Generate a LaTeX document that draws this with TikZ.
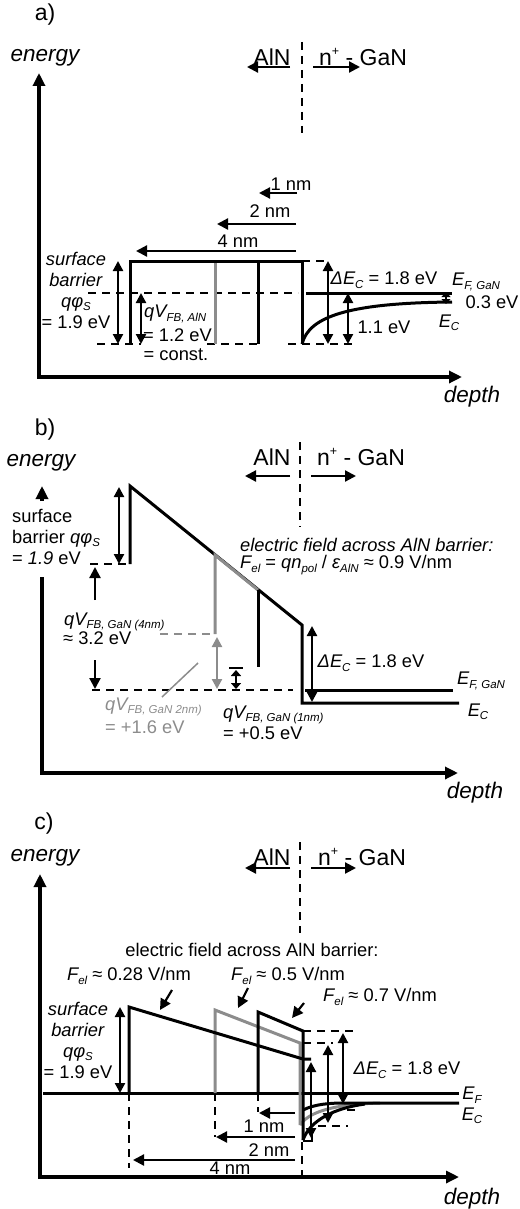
\documentclass[tikz,border=0pt]{standalone}
\usepackage{fontspec}
\setmainfont{Liberation Sans}
\usepackage{tikz}
\usetikzlibrary{arrows.meta,positioning}

\newcommand{\lowtxt}[1]{\raisebox{-0.35ex}{\fontsize{11.5}{12}\selectfont #1}}
\newcommand{\uptxt}[1]{\raisebox{0.75ex}{\fontsize{12.5}{12}\selectfont #1}}

\begin{document}
\begin{tikzpicture}[
  x=1pt, y=-1pt,
  hd/.style={font=\fontsize{23}{25}\selectfont, inner sep=0pt},
  hdit/.style={font=\fontsize{22.5}{25}\selectfont\itshape, inner sep=0pt},
  lbl/.style={font=\fontsize{18.3}{21}\selectfont, inner sep=0pt},
  lblit/.style={font=\fontsize{18.3}{21}\selectfont\itshape, inner sep=0pt},
  ax/.style={line width=3.2pt, >={Triangle[length=13pt,width=12pt]}},
  band/.style={line width=3pt},
  dsh/.style={line width=2.2pt, dash pattern=on 8pt off 6pt},
  arr/.style={line width=2.2pt, -{Triangle[length=11pt,width=11pt]}},
  dim/.style={line width=2.2pt, {Triangle[length=10pt,width=10pt]}-{Triangle[length=10pt,width=10pt]}},
  tiny/.style={line width=1.5pt, {Triangle[length=5pt,width=9pt]}-{Triangle[length=5pt,width=9pt]}},
  pale/.style={black!45},
]
\useasboundingbox (0,0) rectangle (519,1209);

% ---------- a) ----------
\node[hd] (tagA) at (45,15) {a)};
\node[hdit] (enA) at (45,58) {energy};
\draw[ax,<->] (39,73) |- (462,377);
\node[hdit] (dpA) at (472,397) {depth};
\draw[dsh] (302,42) -- (302,133);
\node[hd] (alnA) at (272,57) {AlN};
\node[hd] (ganA) at (363,57) {n\uptxt{+} - GaN};
\draw[arr] (290,67) -- (247,67);
\draw[arr] (313,67) -- (360,67);

\draw[arr] (297,193) -- (259,193);
\node[lbl] (n1A) at (291,184) {1 nm};
\draw[arr] (296,224) -- (217,224);
\node[lbl] (n2A) at (270,211) {2 nm};
\draw[arr] (296,251) -- (136,251);
\node[lbl] (n4A) at (238,241) {4 nm};

\draw[dsh] (88,293) -- (298,293);
\draw[dsh] (97,344) -- (141,344);
\draw[dsh] (207,344) -- (258,344);
\draw[dsh] (288,344) -- (357,344);
\draw[dsh] (302,261) -- (326,261);
\draw[band,pale] (215,261) -- (215,344);
\draw[band] (258,261) -- (258,344);
\draw[band] (130,344) -- (130,261) -- (302,261) -- (302,344);
\draw[band] (306,293) -- (452,293);
\draw[band] (302,344) .. controls (309,316) and (350,303) .. (452,302);

\draw[dim] (118,261) -- (118,344);
\draw[dim] (141,293) -- (141,344);
\draw[dim] (328,261) -- (328,344);
\draw[dim] (348,293) -- (348,344);
\draw[tiny] (446,292) -- (446,304);

\node[lbl,align=center] (sbA) at (76,290) {\textit{surface}\\\textit{barrier}\\\textit{qφ\lowtxt{S}}\\= 1.9 eV};
\node[lblit,anchor=west] (qvA) at (144,314) {qV\lowtxt{FB, AlN}};
\node[lbl,anchor=west] (eqA) at (143,335) {= 1.2 eV};
\node[lbl] (cstA) at (176,355) {= const.};
\node[lbl] (deA) at (384,280) {\textit{ΔE\lowtxt{C}} = 1.8 eV};
\node[lbl] (d11A) at (384,327) {1.1 eV};
\node[lblit,anchor=west] (efA) at (452,282) {E\lowtxt{F, GaN}};
\node[lbl] (d3A) at (492,302) {0.3 eV};
\node[lblit] (ecA) at (449,323) {E\lowtxt{C}};

% ---------- b) ----------
\node[hd] (tagB) at (45,430) {b)};
\node[hdit] (enB) at (41,463) {energy};
\draw[ax,->] (42,501) -- (42,486);
\node[lbl,anchor=west,align=left] (sbB) at (12,537) {surface\\barrier \textit{qφ\lowtxt{S}}\\= \textit{1.9} eV};
\draw[ax,->] (42,577) |- (458,773);
\node[hdit] (dpB) at (475,793) {depth};
\draw[dsh] (300,442) -- (300,527);
\node[hd] (alnB) at (272,457) {AlN};
\node[hd] (ganB) at (361,457) {n\uptxt{+} - GaN};
\draw[arr] (290,476) -- (245,476);
\draw[arr] (311,476) -- (356,476);

\draw[dsh] (90,564) -- (130,564);
\draw[dsh] (92,690) -- (293,690);
\draw[dsh,pale] (160,634) -- (215,634);
\draw[band] (130,564) -- (130,486) -- (302,625) -- (302,703) -- (459,703);
\draw[band,pale] (215,634) -- (215,555) -- (258,590);
\draw[band] (258,590) -- (258,667);
\draw[band] (305,690) -- (453,690);

\draw[dim] (119,487) -- (119,564);
\draw[arr] (95,600) -- (95,567);
\draw[arr] (95,660) -- (95,689);
\draw[dim,pale] (217,637) -- (217,689);
\draw[line width=2.2pt] (229,668) -- (243,668);
\draw[line width=1.5pt, {Triangle[length=6pt,width=10pt]}-{Triangle[length=6pt,width=10pt]}] (236,670) -- (236,689);
\draw[dim] (312,626) -- (312,702);
\draw[pale,line width=1.5pt] (162,697) -- (198,663);

\node[lblit,anchor=west] (efldB) at (240,545) {electric field across AlN barrier:};
\node[lbl,anchor=west] (fB) at (240,565) {\textit{F\lowtxt{el}} = \textit{qn\lowtxt{pol}} / \textit{ε\lowtxt{AlN}} ≈ 0.9 V/nm};
\node[lblit,anchor=west] (qv4B) at (64,622) {qV\lowtxt{FB, GaN (4nm)}};
\node[lbl,anchor=west] (v4B) at (63,638) {≈ 3.2 eV};
\node[lblit,anchor=west,pale] (qv2B) at (105,707) {qV\lowtxt{FB, GaN 2nm)}};
\node[lbl,anchor=west,pale] (v2B) at (105,727) {= +1.6 eV};
\node[lblit,anchor=west] (qv1B) at (223,715) {qV\lowtxt{FB, GaN (1nm)}};
\node[lbl,anchor=west] (v1B) at (223,733) {= +0.5 eV};
\node[lbl] (deB) at (371,663) {\textit{ΔE\lowtxt{C}} = 1.8 eV};
\node[lblit,anchor=west] (efB) at (457,681) {E\lowtxt{F, GaN}};
\node[lblit] (ecB) at (478,712) {E\lowtxt{C}};

% ---------- c) ----------
\node[hd] (tagC) at (44,824) {c)};
\node[hdit] (enC) at (45,858) {energy};
\draw[ax,<->] (40,874) |- (459,1177);
\node[hdit] (dpC) at (472,1199) {depth};
\draw[dsh] (300,842) -- (300,933);
\node[hd] (alnC) at (272,857) {AlN};
\node[hd] (ganC) at (362,857) {n\uptxt{+} - GaN};
\draw[arr] (290,868) -- (245,868);
\draw[arr] (311,868) -- (356,868);

\node[lbl] (efldC) at (252,950) {electric field across AlN barrier:};
\node[lbl] (f28C) at (129,976) {\textit{F\lowtxt{el}} ≈ 0.28 V/nm};
\node[lbl] (f5C) at (288,976) {\textit{F\lowtxt{el}} ≈ 0.5 V/nm};
\node[lbl] (f7C) at (380,997) {\textit{F\lowtxt{el}} ≈ 0.7 V/nm};
\draw[arr] (172,990) -- (160,1010);
\draw[arr] (248,988) -- (238,1008);
\draw[arr] (304,1003) -- (292,1018);

\draw[dsh] (129,1093) -- (129,1168);
\draw[dsh] (215,1093) -- (215,1137);
\draw[dsh] (258,1093) -- (258,1112);
\draw[dsh] (302,1142) -- (302,1175);
\draw[dsh] (303,1031) -- (353,1031);
\draw[dsh] (303,1043) -- (333,1043);
\draw[dsh] (347,1110) -- (357,1110);
\draw[dsh] (318,1126) -- (348,1126);

\draw[band] (43,1093) -- (459,1093);
\draw[band,pale] (215,1093) -- (215,1010) -- (300,1043) -- (300,1125);
\draw[band,pale] (300,1125) .. controls (310,1110) and (340,1104) .. (380,1103);
\draw[band] (129,1093) -- (129,1007) -- (303,1059) -- (311,1059);
\draw[band] (258,1093) -- (258,1012) -- (303,1031) -- (303,1140);
\draw[band] (303,1110) .. controls (315,1104) and (330,1103) .. (345,1103) -- (459,1103);
\draw[band] (303,1140) .. controls (310,1120) and (335,1108) .. (365,1104);
\draw[line width=1.5pt] (303,1141) -- (312,1141) -- (312,1128);

\draw[dim] (120,1007) -- (120,1093);
\draw[dim] (311,1062) -- (311,1138);
\draw[dim] (328,1045) -- (328,1123);
\draw[dim] (343,1033) -- (343,1104);

\draw[arr] (295,1113) -- (259,1113);
\node[lbl] (n1C) at (264,1126) {1 nm};
\draw[arr] (295,1137) -- (216,1137);
\node[lbl] (n2C) at (269,1150) {2 nm};
\draw[arr] (295,1160) -- (133,1160);
\node[lbl] (n4C) at (230,1168) {4 nm};

\node[lbl,align=center] (sbC) at (78,1040) {\textit{surface}\\\textit{barrier}\\\textit{qφ\lowtxt{S}}\\= 1.9 eV};
\node[lbl] (deC) at (407,1070) {\textit{ΔE\lowtxt{C}} = 1.8 eV};
\node[lblit] (efC) at (472,1095) {E\lowtxt{F}};
\node[lblit] (ecC) at (472,1116) {E\lowtxt{C}};
\end{tikzpicture}
\end{document}
